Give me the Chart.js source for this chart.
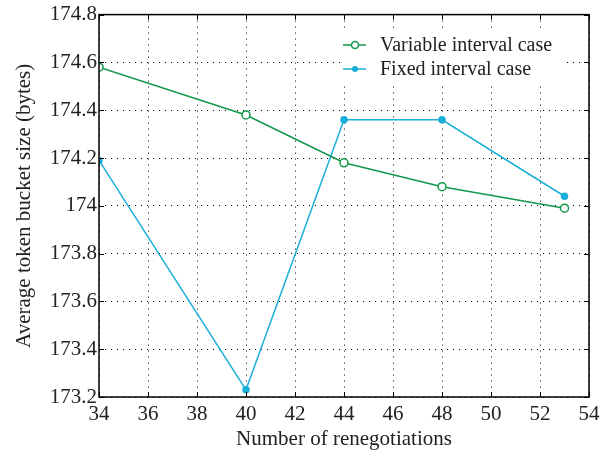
<!DOCTYPE html>
<html>
<head>
<meta charset="utf-8">
<script src="https://cdn.jsdelivr.net/npm/chart.js@4/dist/chart.umd.min.js"></script>
<style>
  html, body { margin: 0; padding: 0; background: #fff; }
  #wrap { width: 610px; height: 452px; }
</style>
</head>
<body>
<div id="wrap"><canvas id="Chart" width="610" height="452"></canvas></div>
<script>
// data
const renegotiations = [34, 40, 44, 48, 53];
const variableCase = [174.58, 174.38, 174.18, 174.08, 173.99];
const fixedCase = [174.19, 173.23, 174.36, 174.36, 174.04];
const seriesNames = ['Variable interval case', 'Fixed interval case'];

const green = '#12984a';
const blue = '#1aafd9';
const FONT = '"Liberation Serif", "DejaVu Serif", serif';
const FS = 21;

function toPoints(xs, ys) {
    return xs.map((x, i) => ({ x: x, y: ys[i] }));
}

// frame, inner ticks and legend drawn inside the plot
const framePlugin = {
    id: 'frame',
    afterDatasetsDraw(chart) {
        const ctx = chart.ctx;
        const a = chart.chartArea;
        ctx.save();
        // inner tick marks
        ctx.strokeStyle = '#000';
        ctx.lineWidth = 1;
        chart.scales.x.ticks.forEach(t => {
            const px = Math.round(chart.scales.x.getPixelForValue(t.value)) + 0.5;
            ctx.beginPath();
            ctx.moveTo(px, a.bottom); ctx.lineTo(px, a.bottom - 5);
            ctx.moveTo(px, a.top); ctx.lineTo(px, a.top + 5);
            ctx.stroke();
        });
        chart.scales.y.ticks.forEach(t => {
            const py = Math.round(chart.scales.y.getPixelForValue(t.value)) + 0.5;
            ctx.beginPath();
            ctx.moveTo(a.left, py); ctx.lineTo(a.left + 5, py);
            ctx.moveTo(a.right, py); ctx.lineTo(a.right - 5, py);
            ctx.stroke();
        });
        // legend box
        const lx = 340, ly = 31;
        ctx.fillStyle = '#fff';
        ctx.fillRect(lx, ly, 225, 52);
        ctx.font = '20px ' + FONT;
        ctx.textBaseline = 'middle';
        const items = [
            { name: seriesNames[0], color: green, open: true },
            { name: seriesNames[1], color: blue, open: false }
        ];
        items.forEach((it, i) => {
            const y = 45 + i * 24;
            ctx.strokeStyle = it.color;
            ctx.lineWidth = 1.5;
            ctx.beginPath();
            ctx.moveTo(343, y);
            ctx.lineTo(366, y);
            ctx.stroke();
            ctx.beginPath();
            ctx.arc(355, y, it.open ? 3.5 : 3, 0, Math.PI * 2);
            if (it.open) {
                ctx.fillStyle = '#fff';
                ctx.fill();
                ctx.stroke();
            } else {
                ctx.fillStyle = it.color;
                ctx.fill();
            }
            ctx.fillStyle = '#222';
            ctx.fillText(it.name, 380, y + 1);
        });
        // axes box
        ctx.strokeStyle = '#000';
        ctx.lineWidth = 1.5;
        ctx.strokeRect(a.left, a.top, a.right - a.left, a.bottom - a.top);
        ctx.restore();
    }
};

const chart = new Chart(document.getElementById('Chart'), {
    type: 'line',
    data: {
        datasets: [{
            label: seriesNames[0],
            data: toPoints(renegotiations, variableCase),
            borderColor: green,
            backgroundColor: '#fff',
            borderWidth: 1.5,
            pointRadius: 4,
            pointBorderWidth: 1.5,
            pointBackgroundColor: '#fff',
            pointBorderColor: green,
            tension: 0
        }, {
            label: seriesNames[1],
            data: toPoints(renegotiations, fixedCase),
            borderColor: blue,
            backgroundColor: blue,
            borderWidth: 1.5,
            pointRadius: 3,
            pointBackgroundColor: blue,
            pointBorderColor: blue,
            tension: 0
        }]
    },
    options: {
        responsive: false,
        animation: false,
        layout: { padding: { top: 12, right: 21, left: 0, bottom: 0 } },
        plugins: {
            legend: { display: false },
            tooltip: { enabled: false }
        },
        scales: {
            x: {
                type: 'linear',
                min: 34,
                max: 54,
                ticks: {
                    stepSize: 2,
                    color: '#222',
                    font: { family: FONT, size: FS },
                    padding: 5,
                    maxRotation: 0
                },
                grid: {
                    color: '#000',
                    lineWidth: 1,
                    drawTicks: false
                },
                border: { display: false, dash: [1, 5] },
                title: {
                    display: true,
                    text: 'Number of renegotiations',
                    color: '#222',
                    font: { family: FONT, size: FS },
                    padding: { top: 0, bottom: 0 }
                },
                afterFit(scale) { scale.height = 55; }
            },
            y: {
                min: 173.2,
                max: 174.8,
                ticks: {
                    stepSize: 0.2,
                    color: '#222',
                    font: { family: FONT, size: FS },
                    padding: 2,
                    callback: v => String(Number(v.toFixed(1)))
                },
                grid: {
                    color: '#000',
                    lineWidth: 1,
                    drawTicks: false
                },
                border: { display: false, dash: [1, 5] },
                title: {
                    display: true,
                    text: 'Average token bucket size (bytes)',
                    color: '#222',
                    font: { family: FONT, size: FS },
                    padding: { top: 12, bottom: 0 }
                },
                afterFit(scale) { scale.width = 99; }
            }
        }
    },
    plugins: [framePlugin]
});
</script>
</body>
</html>
